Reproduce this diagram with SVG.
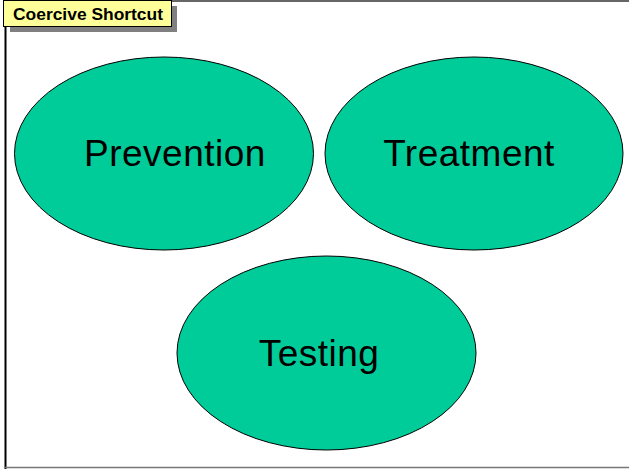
<svg xmlns="http://www.w3.org/2000/svg" width="629" height="469" viewBox="0 0 629 469">
<style>
.node ellipse{fill:#00CC99;stroke:#000;stroke-width:1}
.node text{font-family:"Liberation Sans",Arial,sans-serif;font-size:37px;letter-spacing:0.5px;fill:#000;text-anchor:middle}
</style>
<rect x="0" y="0" width="629" height="469" fill="#fff"/>
<line x1="5.5" y1="1" x2="5.5" y2="469" stroke="#000" stroke-width="2"/>
<line x1="5" y1="1" x2="629" y2="1" stroke="#333" stroke-width="1.5"/>
<line x1="5" y1="467.5" x2="629" y2="467.5" stroke="#777" stroke-width="1.5"/>
<g id="title">
<rect x="10" y="6" width="167" height="26" fill="#808080"/>
<rect x="3.5" y="0.5" width="168" height="26" fill="#FFFF99" stroke="#000" stroke-width="1"/>
<text x="88" y="20" style="font-family:'Liberation Sans',Arial,sans-serif;font-size:16.5px;font-weight:bold" text-anchor="middle" textLength="150" lengthAdjust="spacingAndGlyphs">Coercive Shortcut</text>
</g>
<g id="connectors"></g>
<g id="prevention" class="node">
<ellipse cx="164" cy="153.5" rx="149.5" ry="96.5"/>
<text x="175" y="166">Prevention</text>
</g>
<g id="treatment" class="node">
<ellipse cx="474" cy="153.5" rx="149" ry="96.5"/>
<text x="469" y="166">Treatment</text>
</g>
<g id="testing" class="node">
<ellipse cx="326.5" cy="353" rx="149.5" ry="97"/>
<text x="319" y="365.5">Testing</text>
</g>
</svg>
